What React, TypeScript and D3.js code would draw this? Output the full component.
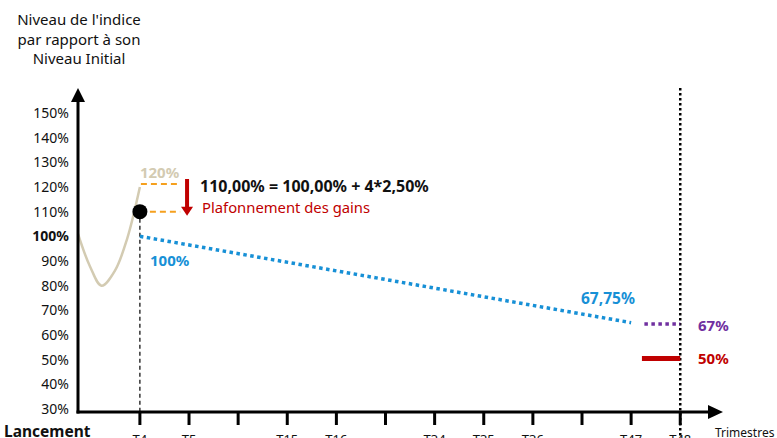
import React from 'react';
import * as d3 from 'd3';

// tick slots along the time axis (blank = unlabelled tick)
const tickLabels = ['T4', 'T5', '', 'T15', 'T16', '', 'T34', 'T35', 'T36', '', 'T47', 'T48'];
const yTicks = [30, 40, 50, 60, 70, 80, 90, 100, 110, 120, 130, 140, 150];

// index path before T4 (slot, level %)
const indexPath: [number, number][] = [
  [-1.26, 101], [-1.02, 88], [-0.78, 80], [-0.51, 86], [-0.26, 99], [0, 120],
];
// guaranteed level line T4 -> T47
const floorLine: [number, number][] = [[0, 100], [10, 65]];
const capValue = 110;
const peakValue = 120;
const finalPurple = 64.5;
const finalRed = 50.5;

const W = 777;
const H = 438;
const FONT = '"Noto Sans", "Open Sans", sans-serif';
const BLUE = '#1790D6';
const TAN = '#D3CBB2';
const ORANGE = '#F5A01E';
const RED = '#C00000';
const PURPLE = '#7030A0';

const App = () => {
  const x = d3.scaleLinear().domain([-1.26, 11.85]).range([78, 722]);
  const y = d3.scaleLinear().domain([30, 150]).range([409, 113]);
  const axisY = y(30) + 3;
  const x0 = x(-1.26);

  const curve = d3.line<[number, number]>()
    .x(d => x(d[0]))
    .y(d => y(d[1]))
    .curve(d3.curveCatmullRom);

  const straight = d3.line<[number, number]>()
    .x(d => x(d[0]))
    .y(d => y(d[1]));

  return (
    <svg width={W} height={H} style={{ position: 'absolute', left: 0, top: 0 }} fontFamily={FONT}>
      <rect width={W} height={H} fill="#fff" />

      {/* title */}
      <text x={79} y={25} fontSize={15} textAnchor="middle" fill="#111">Niveau de l'indice</text>
      <text x={79} y={45} fontSize={15} textAnchor="middle" fill="#111">par rapport à son</text>
      <text x={79} y={64} fontSize={15} textAnchor="middle" fill="#111">Niveau Initial</text>

      {/* y tick labels */}
      {yTicks.map(t => (
        <text key={t} x={69} y={y(t)} dy="0.35em" fontSize={14} textAnchor="end"
          fontWeight={t === 100 ? 'bold' : 'normal'} fill="#111">{t}%</text>
      ))}

      {/* x ticks */}
      {tickLabels.map((l, i) => (
        <g key={i}>
          <line x1={x(i)} x2={x(i)} y1={axisY} y2={axisY + 13} stroke="#000" strokeWidth={3} />
          <text x={x(i)} y={444} fontSize={13} textAnchor="middle" fill="#111">{l}</text>
        </g>
      ))}

      {/* vertical dotted line at T48 */}
      <line x1={x(11)} x2={x(11)} y1={88} y2={H} stroke="#000" strokeWidth={2.5} strokeDasharray="2.5,2.5" />
      {/* dashed line at T4 */}
      <line x1={x(0)} x2={x(0)} y1={y(capValue)} y2={axisY + 13} stroke="#000" strokeWidth={1.2} strokeDasharray="4,3" />

      {/* index path */}
      <path d={curve(indexPath) ?? ''} fill="none" stroke={TAN} strokeWidth={2.5} />

      {/* cap brackets */}
      <line x1={x(0) + 1} x2={x(0.82)} y1={y(peakValue) - 3} y2={y(peakValue) - 3} stroke={ORANGE} strokeWidth={2} strokeDasharray="6,4" />
      <line x1={x(0) + 10} x2={x(0.82)} y1={y(capValue)} y2={y(capValue)} stroke={ORANGE} strokeWidth={2} strokeDasharray="6,4" />
      <line x1={x(0.96)} x2={x(0.96)} y1={y(peakValue) - 8} y2={y(capValue) - 3} stroke={RED} strokeWidth={4} />
      <path d={`M${x(0.96) - 6},${y(capValue) - 5} L${x(0.96) + 6},${y(capValue) - 5} L${x(0.96)},${y(capValue) + 4} Z`} fill={RED} />
      <circle cx={x(0)} cy={y(capValue)} r={7.5} fill="#000" />

      <text x={x(0)} y={y(peakValue) - 9} fontSize={15} fontWeight="bold" fill={TAN}>120%</text>
      <text x={200} y={192} fontSize={16} fontWeight="bold" fill="#111">110,00% = 100,00% + 4*2,50%</text>
      <text x={202} y={213} fontSize={14.8} fill={RED}>Plafonnement des gains</text>

      {/* guaranteed level */}
      <path d={straight(floorLine) ?? ''} fill="none" stroke={BLUE} strokeWidth={3.5} strokeDasharray="3.5,3.5" />
      <text x={150} y={266} fontSize={15} fontWeight="bold" fill={BLUE}>100%</text>
      <text x={581} y={304} fontSize={15.5} fontWeight="bold" fill={BLUE}>67,75%</text>

      {/* final levels */}
      <line x1={x(10.27)} x2={x(11)} y1={y(finalPurple)} y2={y(finalPurple)} stroke={PURPLE} strokeWidth={3.5} strokeDasharray="3.5,3.5" />
      <text x={698} y={331} fontSize={15} fontWeight="bold" fill={PURPLE}>67%</text>
      <line x1={x(10.22)} x2={x(11)} y1={y(finalRed)} y2={y(finalRed)} stroke={RED} strokeWidth={5} />
      <text x={698} y={364} fontSize={15} fontWeight="bold" fill={RED}>50%</text>

      {/* y axis with arrow */}
      <line x1={x0} x2={x0} y1={axisY + 1.5} y2={100} stroke="#000" strokeWidth={3} />
      <path d={`M${x0 - 7},${102} L${x0 + 7},${102} L${x0},${88} Z`} fill="#000" />
      {/* x axis with arrow */}
      <line x1={x0 - 1.5} x2={710} y1={axisY} y2={axisY} stroke="#000" strokeWidth={3} />
      <path d={`M${708},${axisY - 7} L${708},${axisY + 7} L${723},${axisY} Z`} fill="#000" />

      <text x={4} y={437} fontSize={15.5} fontWeight="bold" fill="#111">Lancement</text>
      <text x={715} y={437} fontSize={12} fill="#111">Trimestres</text>
    </svg>
  );
};

export default App;
